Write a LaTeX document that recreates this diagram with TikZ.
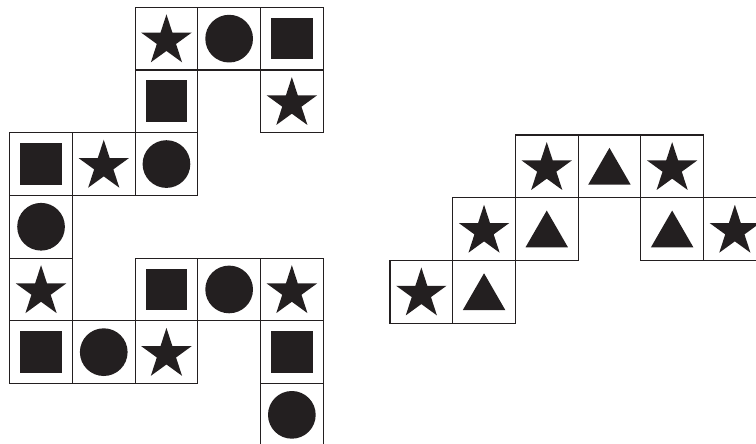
\documentclass[tikz,border=0pt]{standalone}
\definecolor{symblack}{RGB}{35, 31, 32}
\usepackage{tikz}
\usetikzlibrary{shapes.geometric}
\tikzset{
    cellbox/.style={draw=symblack, rectangle, line width=1.1pt, minimum size=62.7pt, inner sep=0pt},
    symbol/.style={fill=symblack, draw=none, inner sep=0pt},
    starsym/.style={symbol, star, star points=5, star point ratio=2.618, minimum size=53pt, yshift=-2.2pt},
    dotsym/.style={symbol, circle, minimum size=47.7pt},
    sqsym/.style={symbol, rectangle, minimum size=41.7pt},
    trisym/.style={symbol, regular polygon, regular polygon sides=3, minimum size=49pt, yshift=-6pt},
}
\begin{document}
\begin{tikzpicture}[x=1pt, y=-1pt]
    \clip (0,0) rectangle (756,444);

    % Left figure
    \begin{scope}[shift={(9.7,7.3)}]
        \foreach \c/\r/\s in {2/0/starsym, 3/0/dotsym, 4/0/sqsym,
                              2/1/sqsym, 4/1/starsym,
                              0/2/sqsym, 1/2/starsym, 2/2/dotsym,
                              0/3/dotsym,
                              0/4/starsym, 2/4/sqsym, 3/4/dotsym, 4/4/starsym,
                              0/5/sqsym, 1/5/dotsym, 2/5/starsym, 4/5/sqsym,
                              4/6/dotsym} {
            \node[cellbox] (L\c\r) at ({62.7*\c+31.35}, {62.7*\r+31.35}) {};
            \node[\s] (L\c\r s) at (L\c\r) {};
        }
    \end{scope}

    % Right figure
    \begin{scope}[shift={(390,135)}]
        \foreach \c/\r/\s in {2/0/starsym, 3/0/trisym, 4/0/starsym,
                              1/1/starsym, 2/1/trisym, 4/1/trisym, 5/1/starsym,
                              0/2/starsym, 1/2/trisym} {
            \node[cellbox] (R\c\r) at ({62.7*\c+31.35}, {62.7*\r+31.35}) {};
            \node[\s] (R\c\r s) at (R\c\r) {};
        }
    \end{scope}
\end{tikzpicture}
\end{document}
